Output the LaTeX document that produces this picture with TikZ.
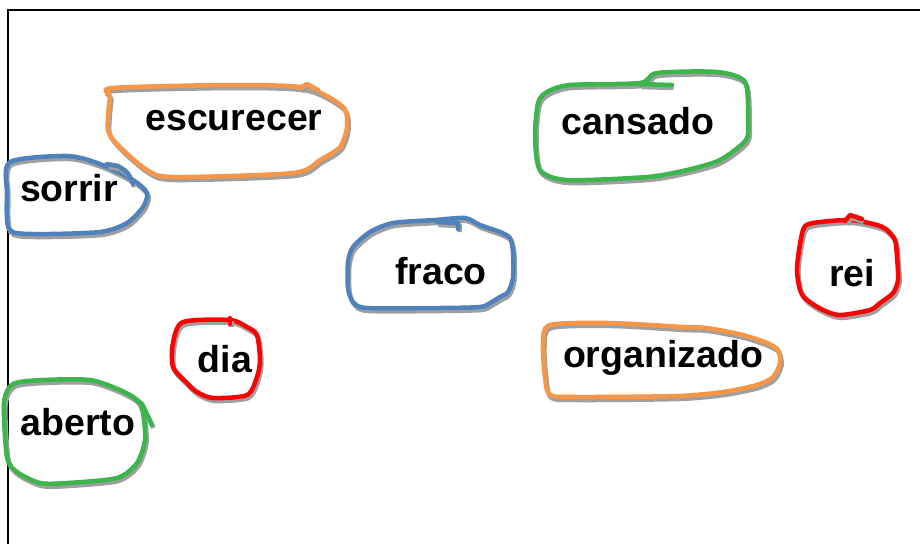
\documentclass[tikz,border=0pt]{standalone}
\usepackage{fontspec}
\setmainfont{Liberation Sans}
\usepackage{tikz}

\definecolor{laranja}{HTML}{F79646}
\definecolor{azul}{HTML}{4F81BD}
\definecolor{verde}{HTML}{3CB54A}
\definecolor{vermelho}{HTML}{FF0000}

\begin{document}
\begin{tikzpicture}[x=1pt,y=-1pt,
    palavra/.style={font=\fontsize{37.5}{41}\selectfont\bfseries,inner sep=0pt},
    laco/.style={line width=4.5pt,line join=round,line cap=round,
      preaction={draw=gray!75,line width=4.5pt,transform canvas={shift={(1.5pt,-3pt)}}}}]
  \useasboundingbox (0,0) rectangle (920,544);

  % Moldura (só em cima e à esquerda)
  \draw[line width=1.6pt] (920,10) -- (8,10) -- (8,544);

  % Palavras
  \node[palavra] (escurecer) at (234,121) {escurecer};
  \node[palavra] (sorrir) at (69,188) {sorrir};
  \node[palavra] (cansado) at (638,121) {cansado};
  \node[palavra] (fraco) at (441,271) {fraco};
  \node[palavra] (rei) at (852,273) {rei};
  \node[palavra] (dia) at (225,359) {dia};
  \node[palavra] (organizado) at (663,358) {organizado};
  \node[palavra] (aberto) at (78,422) {aberto};

  % Laços laranja
  \draw[laco,laranja] plot[smooth cycle,tension=0.45] coordinates {
    (113,88) (237,85) (307,88) (343,107) (347,127) (340,147) (320,160)
    (293,173) (173,177) (147,170) (120,147) (108,130) (110,97)};
  \draw[laco,laranja] (300,88) -- (307,84) -- (318,90);
  \draw[laco,laranja] plot[smooth cycle,tension=0.45] coordinates {
    (550,325) (610,323) (683,327) (707,328) (743,335) (767,343) (778,350)
    (780,363) (773,377) (757,385) (723,392) (677,396) (577,397) (550,395)
    (545,377) (543,343)};

  % Laços azuis
  \draw[laco,azul] plot[smooth cycle,tension=0.45] coordinates {
    (10,162) (67,156) (100,164) (133,180) (147,193) (143,207) (127,223)
    (100,232) (33,234) (9,229) (7,193)};
  \draw[laco,azul] (107,164) -- (118,166) .. controls (128,172) .. (133,184);
  \draw[laco,azul] plot[smooth cycle,tension=0.45] coordinates {
    (353,247) (370,232) (393,223) (435,220) (465,218) (480,225) (500,232)
    (510,238) (513,252) (513,278) (508,292) (500,297) (490,303) (480,307)
    (440,308) (367,308) (353,302) (348,288) (348,262)};
  \draw[laco,azul] (437,222) -- (458,223) -- (458,229);

  % Laços verdes
  \draw[laco,verde] plot[smooth cycle,tension=0.45] coordinates {
    (547,92) (570,85) (640,83) (657,73) (717,72) (745,82) (748,120)
    (746,140) (720,160) (687,170) (647,177) (567,180) (540,170) (535,137)
    (538,103)};
  \draw[laco,verde] (640,84) -- (672,85);
  \draw[laco,verde] plot[smooth cycle,tension=0.45] coordinates {
    (13,384) (43,380) (90,380) (120,390) (137,400) (143,413) (145,440)
    (137,463) (117,478) (67,483) (40,483) (17,472) (7,457) (4,403)};
  \draw[laco,verde] (137,400) -- (142,404) -- (152,425);

  % Laços vermelhos
  \draw[laco,vermelho] plot[smooth cycle,tension=0.45] coordinates {
    (803,230) (813,223) (850,220) (877,225) (887,230) (895,240) (897,257)
    (898,280) (893,293) (880,303) (870,310) (840,315) (823,310) (807,300)
    (800,290) (797,267)};
  \draw[laco,vermelho] (845,221) -- (850,215) -- (862,219);
  \draw[laco,vermelho] plot[smooth cycle,tension=0.45] coordinates {
    (183,322) (230,320) (247,327) (257,335) (260,360) (257,377) (247,395)
    (213,398) (197,392) (187,383) (173,367) (173,343)};
  \draw[laco,vermelho] (230,324) -- (230,318);
\end{tikzpicture}
\end{document}
